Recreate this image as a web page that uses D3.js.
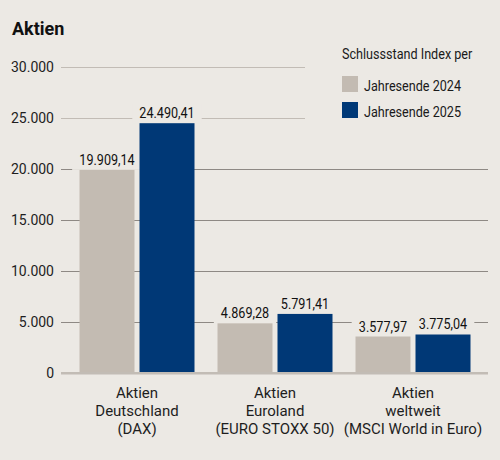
<!DOCTYPE html>
<html>
<head>
<meta charset="utf-8">
<script src="https://cdn.jsdelivr.net/npm/d3@7"></script>
<style>
  html, body { margin: 0; padding: 0; background: #ece9e4; }
  svg { display: block; font-family: Roboto, "Noto Sans", sans-serif; }
</style>
</head>
<body>
<div id="chart"></div>
<script>
// data
var categories = [
  ['Aktien', 'Deutschland', '(DAX)'],
  ['Aktien', 'Euroland', '(EURO STOXX 50)'],
  ['Aktien', 'weltweit', '(MSCI World in Euro)']
];
var seriesNames = ['Jahresende 2024', 'Jahresende 2025'];
var values2024 = [19909.14, 4869.28, 3577.97];
var values2025 = [24490.41, 5791.41, 3775.04];
var tickValues = [0, 5000, 10000, 15000, 20000, 25000, 30000];
var tickLabels = ['0', '5.000', '10.000', '15.000', '20.000', '25.000', '30.000'];

var W = 500, H = 460;
var bg = '#ece9e4';
var colors = ['#c3bbb2', '#003876'];
var cond = 'scale(0.87,1)';

var de = d3.formatLocale({ decimal: ',', thousands: '.', grouping: [3], currency: ['', ' €'] });
var fmt = de.format(',.2f');

var svg = d3.select('#chart').append('svg')
    .attr('width', W)
    .attr('height', H);

svg.append('rect').attr('width', W).attr('height', H).attr('fill', bg);

// scales
var x0 = d3.scaleBand()
    .domain(d3.range(categories.length))
    .range([68, 482])
    .paddingInner(1 / 6)
    .paddingOuter(1 / 12);

var x1 = d3.scaleBand()
    .domain(seriesNames)
    .range([0, x0.bandwidth()])
    .paddingInner(1 / 12);

var y = d3.scaleLinear()
    .domain([0, 30000])
    .range([373, 67]);

// gridlines + y labels
var axisLeft = 61, axisRight = 488;
var yAxis = svg.append('g')
    .attr('transform', 'translate(' + axisLeft + ',0)')
    .call(d3.axisLeft(y)
        .tickValues(tickValues)
        .tickSize(-(axisRight - axisLeft))
        .tickPadding(7)
        .tickFormat(function (d, i) { return tickLabels[i]; }));
yAxis.select('.domain').remove();
yAxis.selectAll('.tick line')
    .attr('stroke', function (d) { return (d >= 5000 && d <= 20000) ? '#8e8984' : '#c2bcb5'; })
    .attr('stroke-width', function (d) { return d === 0 ? 2 : 1.2; });
yAxis.selectAll('.tick text')
    .attr('font-size', '14px')
    .attr('fill', '#1e1e1e')
    .attr('font-family', 'Roboto, sans-serif');

// legend (box covers the top gridlines)
var legend = svg.append('g');
legend.append('rect')
    .attr('x', 305).attr('y', 35).attr('width', 195).attr('height', 92)
    .attr('fill', bg);
legend.append('g')
    .attr('transform', 'translate(342,59)')
    .append('text')
    .attr('transform', cond)
    .attr('font-size', '14.5px')
    .attr('fill', '#1a1a1a')
    .text('Schlussstand Index per');
seriesNames.forEach(function (s, i) {
    legend.append('rect')
        .attr('x', 342).attr('y', 76 + i * 26)
        .attr('width', 16).attr('height', 16)
        .attr('fill', colors[i]);
    legend.append('g')
        .attr('transform', 'translate(364,' + (91 + i * 26) + ')')
        .append('text')
        .attr('transform', cond)
        .attr('font-size', '14.5px')
        .attr('fill', '#1a1a1a')
        .text(s);
});

var rows = [];
categories.forEach(function (c, i) {
    rows.push({ cat: i, s: seriesNames[0], v: values2024[i], c: colors[0] });
    rows.push({ cat: i, s: seriesNames[1], v: values2025[i], c: colors[1] });
});

function labelPos(d) {
    return 'translate(' + (x0(d.cat) + x1(d.s) + x1.bandwidth() / 2) + ',' + (y(d.v) - 5) + ')';
}

// label backgrounds sit under the bars, over the gridlines
var bgLayer = svg.append('g');
var barLayer = svg.append('g');
var baseLayer = svg.append('g');
var textLayer = svg.append('g');

var labels = textLayer.selectAll('g')
    .data(rows)
    .enter()
    .append('g')
    .attr('transform', labelPos);
labels.append('text')
    .attr('transform', cond)
    .attr('text-anchor', 'middle')
    .attr('font-size', '14.5px')
    .attr('fill', '#111')
    .text(function (d) { return fmt(d.v); });

labels.each(function (d) {
    var b = d3.select(this).select('text').node().getBBox();
    var w = b.width * 0.87;
    bgLayer.append('rect')
        .attr('transform', labelPos(d))
        .attr('x', -w / 2 - 7).attr('y', b.y - 1)
        .attr('width', w + 14).attr('height', -b.y + 6)
        .attr('fill', bg);
});

// bars
barLayer.selectAll('rect')
    .data(rows)
    .enter()
    .append('rect')
    .attr('x', function (d) { return x0(d.cat) + x1(d.s); })
    .attr('y', function (d) { return y(d.v); })
    .attr('width', x1.bandwidth())
    .attr('height', function (d) { return y(0) - y(d.v); })
    .attr('fill', function (d) { return d.c; });

// baseline on top of bars
baseLayer.append('line')
    .attr('x1', axisLeft).attr('x2', axisRight)
    .attr('y1', y(0)).attr('y2', y(0))
    .attr('stroke', '#c2bcb5').attr('stroke-width', 2);

// category labels
var cats = svg.append('g').selectAll('text')
    .data(categories)
    .enter()
    .append('text')
    .attr('x', function (d, i) { return x0(i) + x0.bandwidth() / 2; })
    .attr('y', 398)
    .attr('text-anchor', 'middle')
    .attr('font-size', '15px')
    .attr('fill', '#1e1e1e');
cats.selectAll('tspan')
    .data(function (d) { return d; })
    .enter()
    .append('tspan')
    .attr('x', function () { return d3.select(this.parentNode).attr('x'); })
    .attr('dy', function (d, i) { return i === 0 ? 0 : 18; })
    .text(function (d) { return d; });

// title
svg.append('text')
    .attr('x', 12).attr('y', 35)
    .attr('font-size', '18px')
    .attr('font-weight', 'bold')
    .attr('fill', '#111')
    .text('Aktien');
</script>
</body>
</html>
